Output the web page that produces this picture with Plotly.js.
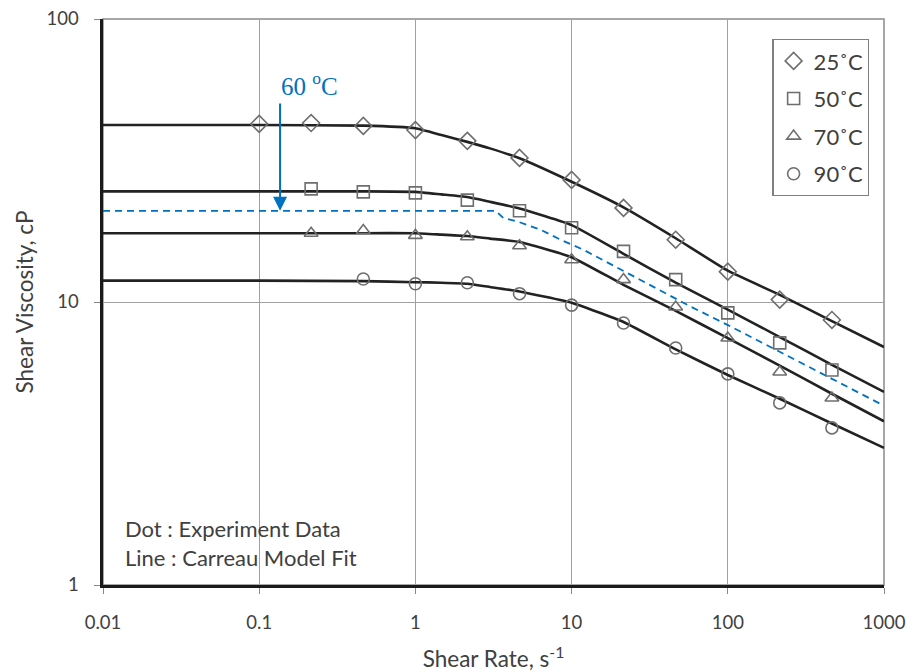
<!DOCTYPE html>
<html>
<head>
<meta charset="utf-8">
<script src="https://cdn.plot.ly/plotly-3.0.1.min.js"></script>
<style>html,body{margin:0;padding:0;background:#fff;}#chart{width:911px;height:672px;}</style>
</head>
<body>
<div id="chart"></div>
<script>
// ---- Experimental data (shear rate s^-1, viscosity cP) ----
const rate25 = [0.1, 0.215, 0.464, 1, 2.15, 4.64, 10, 21.5, 46.4, 100, 215, 464];
const visc25 = [42.6, 42.9, 41.9, 40.5, 37.1, 32.3, 27.0, 21.5, 16.6, 12.8, 10.2, 8.64];
const rate50 = [0.215, 0.464, 1, 2.15, 4.64, 10, 21.5, 46.4, 100, 215, 464];
const visc50 = [25.1, 24.5, 24.3, 22.9, 21.0, 18.3, 15.1, 12.0, 9.15, 7.17, 5.75];
const rate70 = [0.215, 0.464, 1, 2.15, 4.64, 10, 21.5, 46.4, 100, 215, 464];
const visc70 = [17.5, 17.9, 17.2, 17.0, 15.8, 14.1, 12.0, 9.6, 7.46, 5.66, 4.58];
const rate90 = [0.464, 1, 2.15, 4.64, 10, 21.5, 46.4, 100, 215, 464];
const visc90 = [12.06, 11.6, 11.7, 10.7, 9.75, 8.43, 6.88, 5.57, 4.40, 3.59];

// ---- Carreau model fit curves ----
const fitRate = [0.01, 0.1, 0.464, 1, 1.47, 2.15, 3, 4.64, 10, 21.5, 46.4, 100, 215, 464, 1000];
const fit25 = [42.2, 42.2, 42.0, 41.1, 38.9, 36.8, 34.9, 32.2, 26.6, 21.6, 16.8, 12.9, 10.6, 8.56, 6.93];
const fit50 = [24.6, 24.6, 24.6, 24.5, 24.0, 23.5, 22.6, 21.4, 18.7, 14.8, 11.7, 9.4, 7.52, 6.0, 4.81];
const fit70 = [17.5, 17.5, 17.5, 17.5, 17.3, 17.1, 16.75, 16.3, 14.4, 11.5, 9.3, 7.45, 5.96, 4.74, 3.79];
const fit90 = [11.9, 11.9, 11.85, 11.75, 11.7, 11.6, 11.3, 10.9, 9.94, 8.5, 6.8, 5.52, 4.55, 3.72, 3.05];

// ---- Estimated 60 °C curve (dashed) ----
const rate60 = [0.01, 3.26, 3.66, 4.57, 6.33, 8.49, 11.9, 57.9, 101, 1000];
const visc60 = [21.0, 21.0, 19.8, 19.2, 18.0, 16.6, 15.3, 9.63, 8.27, 4.3];

// ---- Arrow (60 °C label) ----
const arrowRate = 0.136;
const arrowFrom = 50.9;
const arrowTo = 21.0;

// ---- Ticks ----
const xTickVals = [0.01, 0.1, 1, 10, 100, 1000];
const xTickText = ['0.01', '0.1', '1', '10', '100', '1000'];
const yTickVals = [1, 10, 100];
const yTickText = ['1', '10', '100'];

const legendNames = ['25˚C', '50˚C', '70˚C', '90˚C'];

const FONT = 'Lato, "Open Sans", sans-serif';
const lineColor = '#222222';
const markerColor = '#6e6e6e';
const blue = '#0070C0';

function fitTrace(x, y) {
  return {x: x, y: y, type: 'scatter', mode: 'lines', showlegend: false, hoverinfo: 'skip',
          line: {color: lineColor, width: 2.6, shape: 'spline', smoothing: 0.4}};
}
function dotTrace(x, y, name, symbol, size, group) {
  return {x: x, y: y, type: 'scatter', mode: 'markers', name: name, legendgroup: group,
          marker: {symbol: symbol, size: size, color: markerColor,
                   line: {color: markerColor, width: 1.6}}};
}

const traces = [
  fitTrace(fitRate, fit25),
  fitTrace(fitRate, fit50),
  fitTrace(fitRate, fit70),
  fitTrace(fitRate, fit90),
  {x: rate60, y: visc60, type: 'scatter', mode: 'lines', showlegend: false, hoverinfo: 'skip',
   line: {color: blue, width: 1.8, dash: '7px,5px'}},
  dotTrace(rate25, visc25, legendNames[0], 'diamond-open', 13, 'a'),
  dotTrace(rate50, visc50, legendNames[1], 'square-open', 12, 'b'),
  dotTrace(rate70, visc70, legendNames[2], 'triangle-up-open', 12, 'c'),
  dotTrace(rate90, visc90, legendNames[3], 'circle-open', 12, 'd')
];

const layout = {
  width: 911, height: 672,
  margin: {l: 103, r: 27, t: 19, b: 87},
  paper_bgcolor: '#ffffff', plot_bgcolor: '#ffffff',
  font: {family: FONT, color: '#404040', size: 18},
  showlegend: true,
  legend: {
    x: 0.857, y: 0.965, xanchor: 'left', yanchor: 'top',
    bordercolor: '#808080', borderwidth: 1.3, bgcolor: '#ffffff',
    font: {family: FONT, size: 22, color: '#404040'},
    traceorder: 'grouped', tracegroupgap: 6, itemwidth: 30
  },
  xaxis: {
    type: 'log', range: [-2, 3], autorange: false,
    tickmode: 'array', tickvals: xTickVals, ticktext: xTickText,
    ticks: 'outside', ticklen: 6, tickcolor: '#888', tickwidth: 1,
    ticklabelstandoff: 13,
    showgrid: true, gridcolor: '#a0a0a0', gridwidth: 1,
    showline: true, linecolor: '#1a1a1a', linewidth: 2.6,
    zeroline: false, automargin: false,
    tickfont: {family: FONT, size: 18.5, color: '#404040'},
    title: {text: 'Shear Rate, s<sup>-1</sup>', standoff: 20, font: {family: FONT, size: 22.5, color: '#404040'}}
  },
  yaxis: {
    type: 'log', range: [0, 2], autorange: false,
    tickmode: 'array', tickvals: yTickVals, ticktext: yTickText,
    ticks: 'outside', ticklen: 6, tickcolor: '#888', tickwidth: 1,
    ticklabelstandoff: 12,
    showgrid: true, gridcolor: '#a0a0a0', gridwidth: 1,
    showline: true, linecolor: '#1a1a1a', linewidth: 2.6,
    zeroline: false, automargin: false,
    tickfont: {family: FONT, size: 18.5, color: '#404040'},
    title: {text: 'Shear Viscosity, cP', standoff: 7, font: {family: FONT, size: 22.5, color: '#404040'}}
  },
  shapes: [
    {type: 'rect', xref: 'paper', yref: 'paper', x0: 0, x1: 1, y0: 0, y1: 1,
     line: {color: '#8a8a8a', width: 1.5}, layer: 'below'}
  ],
  annotations: [
    {x: Math.log10(arrowRate), y: Math.log10(arrowTo), xref: 'x', yref: 'y',
     ax: Math.log10(arrowRate), ay: Math.log10(arrowFrom), axref: 'x', ayref: 'y',
     text: '', showarrow: true, arrowhead: 2, arrowsize: 1.4, arrowwidth: 2, arrowcolor: blue},
    {x: Math.log10(arrowRate), y: Math.log10(arrowFrom), xref: 'x', yref: 'y',
     xanchor: 'left', yanchor: 'bottom', xshift: -1, yshift: 0, showarrow: false,
     text: '60 <sup>o</sup>C', font: {family: '"Liberation Serif", "DejaVu Serif", serif', size: 25, color: blue}},
    {x: 0.025, y: 0.021, xref: 'paper', yref: 'paper', xanchor: 'left', yanchor: 'bottom',
     align: 'left', showarrow: false,
     text: 'Dot : Experiment Data<br>Line : Carreau Model Fit',
     font: {family: FONT, size: 22, color: '#404040'}}
  ]
};

Plotly.newPlot('chart', traces, layout, {displayModeBar: false, staticPlot: true});
</script>
</body>
</html>
